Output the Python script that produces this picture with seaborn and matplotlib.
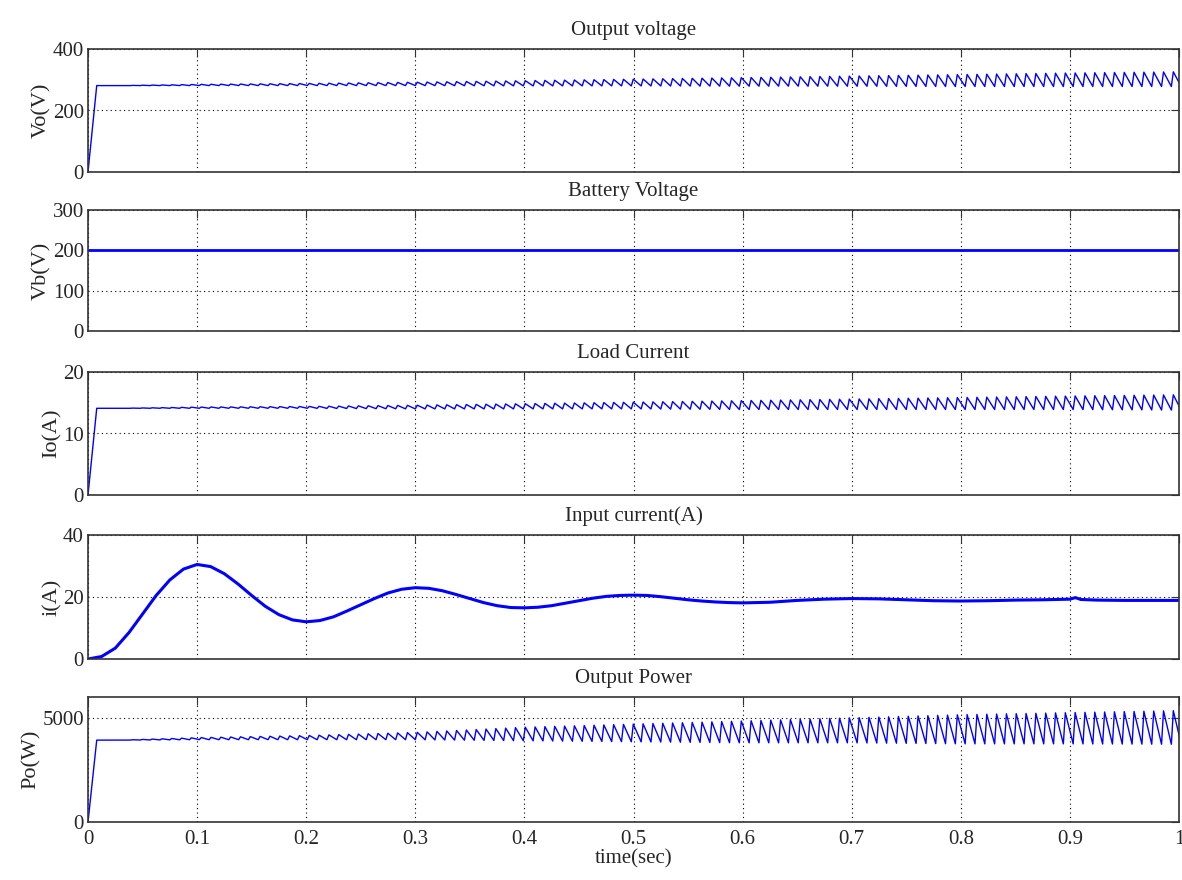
import numpy as np
import matplotlib
matplotlib.use("Agg")
import matplotlib.pyplot as plt
import seaborn as sns

# ripple envelope (time, low edge, high edge)
env_t = [0.03, 0.1, 0.2, 0.3, 0.4, 0.5, 0.6, 0.7, 0.8, 0.9, 1.0]
vo_lo = [281, 281, 281, 281, 280, 280, 279, 279, 278, 278, 278]
vo_hi = [281, 285, 288, 292, 297, 302, 307, 312, 317, 322, 326]
io_lo = [14.1, 14.1, 14.1, 14.0, 14.0, 14.0, 13.9, 13.9, 13.9, 13.9, 13.8]
io_hi = [14.1, 14.3, 14.4, 14.6, 14.85, 15.1, 15.35, 15.6, 15.85, 16.1, 16.3]
po_lo = [3930, 3950, 3950, 3950, 3900, 3850, 3800, 3800, 3750, 3750, 3730]
po_hi = [3930, 4050, 4150, 4300, 4550, 4700, 4850, 5000, 5150, 5250, 5350]
ripple_period = 0.009
rise_frac = 0.2

vb_t = [0.0, 1.0]
vb_v = [200, 200]

# input current
i_t = [0.0, 0.0125, 0.025, 0.0375, 0.05, 0.0625, 0.075, 0.0875, 0.1, 0.1125,
       0.125, 0.1375, 0.15, 0.1625, 0.175, 0.1875, 0.2, 0.2125, 0.225, 0.2375,
       0.25, 0.2625, 0.275, 0.2875, 0.3, 0.3125, 0.325, 0.3375, 0.35, 0.3625,
       0.375, 0.3875, 0.4, 0.4125, 0.425, 0.4375, 0.45, 0.4625, 0.475, 0.4875,
       0.5, 0.5125, 0.525, 0.5375, 0.55, 0.5625, 0.575, 0.5875, 0.6, 0.625,
       0.65, 0.675, 0.7, 0.725, 0.75, 0.775, 0.8, 0.825, 0.85, 0.875,
       0.9, 0.905, 0.91, 0.925, 0.95, 0.975, 1.0]
i_v = [0.0, 0.8, 3.5, 8.5, 14.5, 20.5, 25.5, 29.0, 30.5, 29.8,
       27.5, 24.2, 20.5, 17.0, 14.3, 12.6, 12.0, 12.4, 13.6, 15.5,
       17.5, 19.5, 21.3, 22.5, 23.0, 22.8, 22.0, 20.8, 19.5, 18.2,
       17.2, 16.6, 16.5, 16.7, 17.2, 18.0, 18.8, 19.6, 20.2, 20.5,
       20.6, 20.5, 20.1, 19.6, 19.1, 18.7, 18.4, 18.2, 18.1, 18.3,
       18.9, 19.3, 19.5, 19.4, 19.1, 18.8, 18.7, 18.8, 19.0, 19.1,
       19.3, 19.8, 19.2, 19.0, 18.9, 18.9, 18.9]

ramp_end = 0.008


def ripple_wave(lo, hi, start):
    # sawtooth: quick rise, slow fall, between the read envelopes
    n = int((1.0 - env_t[0]) / ripple_period)
    tk = []
    for k in range(n + 2):
        t0 = env_t[0] + k * ripple_period
        t1 = t0 + rise_frac * ripple_period
        tk += [t0, t1]
    tk = np.array(tk)
    lo_i = np.interp(tk, env_t, lo)
    hi_i = np.interp(tk, env_t, hi)
    vk = np.where(np.arange(len(tk)) % 2 == 0, lo_i, hi_i)
    t = np.concatenate([[0.0, ramp_end], tk])
    v = np.concatenate([[0.0, start], vk])
    return t, v


sns.set_style("white")
plt.rcParams['font.family'] = ['Liberation Serif', 'DejaVu Serif']

fig = plt.figure(figsize=(11.82, 8.8), dpi=100)
left = 88 / 1182
width = (1179 - 88) / 1182
boxes = [(49, 172), (210, 331), (372, 495), (535, 659), (697, 822)]
axes = [fig.add_axes([left, (880 - b) / 880, width, (b - t) / 880]) for t, b in boxes]

vo_t, vo_v = ripple_wave(vo_lo, vo_hi, 281)
io_t, io_v = ripple_wave(io_lo, io_hi, 14.1)
po_t, po_v = ripple_wave(po_lo, po_hi, 3930)

blue = "#0000ff"
sns.lineplot(x=vo_t, y=vo_v, ax=axes[0], color=blue, lw=1.0, estimator=None, sort=False)
sns.lineplot(x=vb_t, y=vb_v, ax=axes[1], color=blue, lw=2.0, estimator=None, sort=False)
sns.lineplot(x=io_t, y=io_v, ax=axes[2], color=blue, lw=1.0, estimator=None, sort=False)
sns.lineplot(x=i_t, y=i_v, ax=axes[3], color=blue, lw=2.2, estimator=None, sort=False)
sns.lineplot(x=po_t, y=po_v, ax=axes[4], color=blue, lw=1.0, estimator=None, sort=False)

titles = ["Output voltage", "Battery Voltage", "Load Current", "Input current(A)", "Output Power"]
ylabels = ["Vo(V)", "Vb(V)", "Io(A)", "i(A)", "Po(W)"]
ylims = [(0, 400), (0, 300), (0, 20), (0, 40), (0, 6000)]
yticks = [[0, 200, 400], [0, 100, 200, 300], [0, 10, 20], [0, 20, 40], [0, 5000]]
xticks = [0, 0.1, 0.2, 0.3, 0.4, 0.5, 0.6, 0.7, 0.8, 0.9, 1.0]
xticklabels = ["0", "0.1", "0.2", "0.3", "0.4", "0.5", "0.6", "0.7", "0.8", "0.9", "1"]

for k, ax in enumerate(axes):
    ax.set_xlim(0, 1)
    ax.set_ylim(*ylims[k])
    ax.set_yticks(yticks[k])
    ax.set_xticks(xticks)
    ax.set_title(titles[k], fontsize=15, pad=10)
    ax.set_ylabel(ylabels[k], fontsize=16, labelpad=1)
    ax.grid(True, linestyle=(0, (1, 3)), color="black", lw=0.8)
    ax.tick_params(direction="in", length=6, top=True, right=True,
                   labelsize=15, pad=3, color="#333333")
    for s in ax.spines.values():
        s.set_color("#333333")
        s.set_linewidth(1.2)
    if k < 4:
        ax.set_xticklabels([])
    else:
        ax.set_xticklabels(xticklabels)
        ax.tick_params(axis="x", pad=6)
        ax.set_xlabel("time(sec)", fontsize=15, labelpad=0)

fig.savefig("out.png", dpi=100)
